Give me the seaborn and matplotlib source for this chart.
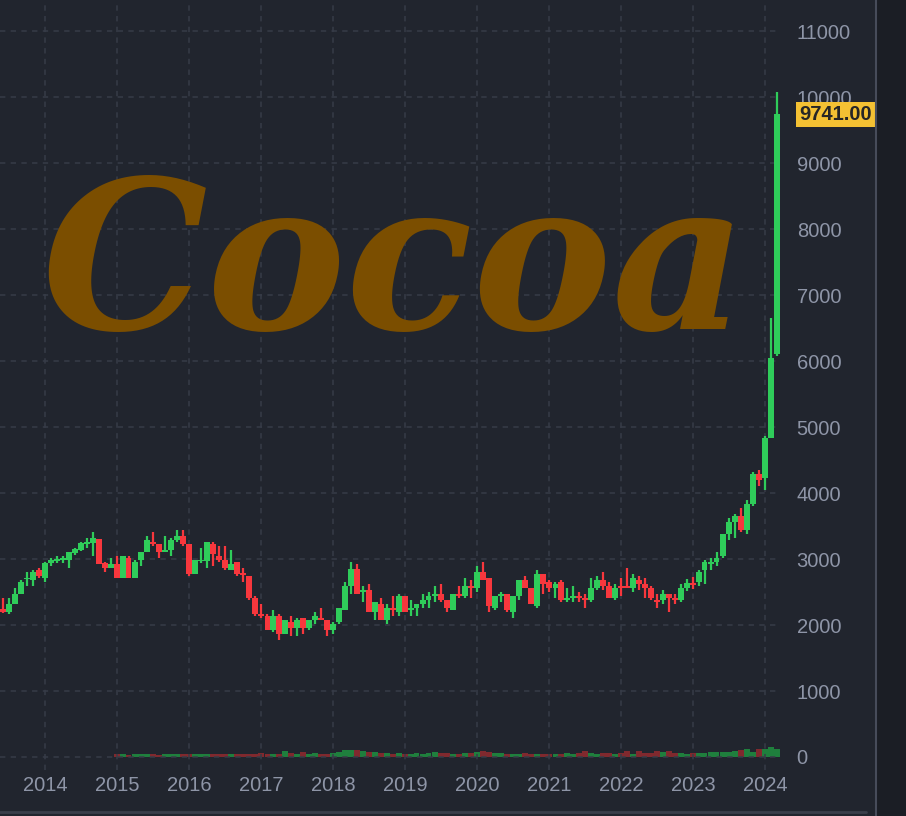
"""
Monthly cocoa futures candles with a volume strip, dark chart style.
"""
import numpy as np
import pandas as pd
import matplotlib
matplotlib.use('Agg')
import matplotlib.pyplot as plt
import matplotlib.dates as mdates
from matplotlib.lines import Line2D
from matplotlib.patches import Rectangle
import seaborn as sns

BG = '#21252e'
GRID = '#373c48'
LABEL = '#8e95a7'
UP = '#2fcc5a'
DOWN = '#f7373d'
UP_VOL = '#1f7f3d'
DOWN_VOL = '#80292e'

first_month = '2013-06-01'

opens = [2238, 2201, 2318, 2469, 2691, 2681, 2833, 2707, 2934, 2974, 2984, 2984, 3085,
         3136, 3227, 3247, 3300, 2934, 2863, 2923, 2712, 3015, 2712, 2984, 3105, 3257,
         3227, 3105, 3136, 3287, 3348, 3227, 2772, 2970, 2974, 3227, 3045, 2984, 2833,
         2954, 2782, 2742, 2409, 2166, 2136, 1924, 2136, 1863, 2045, 1954, 2106, 1954,
         2075, 2106, 2075, 1924, 2045, 2227, 2590, 2850, 2500, 2530, 2197, 2318, 2075,
         2257, 2197, 2439, 2227, 2257, 2318, 2379, 2439, 2469, 2379, 2227, 2469, 2439,
         2591, 2560, 2803, 2712, 2257, 2439, 2469, 2197, 2439, 2681, 2560, 2288, 2772,
         2651, 2560, 2651, 2379, 2409, 2439, 2409, 2379, 2560, 2681, 2591, 2409, 2591,
         2591, 2560, 2681, 2621, 2560, 2379, 2379, 2469, 2409, 2379, 2560, 2640, 2646,
         2828, 2919, 2950, 3040, 3374, 3556, 3646, 3434, 3828, 4283, 4222, 4828, 6111]
highs = [2404, 2404, 2555, 2681, 2808, 2833, 2868, 2959, 3020, 3045, 3045, 3105, 3166,
         3262, 3312, 3409, 3300, 2954, 3015, 3045, 3045, 3045, 2984, 3105, 3348, 3409,
         3227, 3348, 3318, 3439, 3439, 3227, 2984, 3166, 3257, 3257, 3196, 3196, 3136,
         2954, 2859, 2742, 2439, 2318, 2166, 2227, 2166, 2075, 2136, 2106, 2106, 2075,
         2197, 2257, 2075, 2045, 2257, 2651, 2950, 2924, 2591, 2621, 2348, 2409, 2318,
         2439, 2469, 2439, 2379, 2318, 2469, 2500, 2591, 2621, 2379, 2469, 2591, 2712,
         2681, 2894, 2954, 2712, 2439, 2500, 2469, 2439, 2681, 2742, 2560, 2833, 2772,
         2681, 2651, 2681, 2560, 2591, 2500, 2469, 2712, 2742, 2803, 2651, 2621, 2712,
         2863, 2772, 2742, 2712, 2591, 2469, 2530, 2469, 2469, 2621, 2690, 2720, 2828,
         2980, 3010, 3101, 3374, 3616, 3677, 3768, 3889, 4313, 4343, 4858, 6646, 10080]
lows = [2177, 2166, 2318, 2469, 2590, 2590, 2717, 2651, 2894, 2934, 2934, 2868, 3055,
        3126, 3161, 3045, 2923, 2803, 2863, 2712, 2712, 2712, 2712, 2894, 3105, 3196,
        3015, 3105, 3045, 3257, 3196, 2742, 2772, 2934, 2868, 2894, 2954, 2833, 2833,
        2742, 2651, 2379, 2136, 2106, 1924, 1893, 1772, 1863, 1833, 1833, 1863, 1924,
        2015, 2075, 1833, 1863, 2015, 2227, 2470, 2469, 2348, 2197, 2075, 2075, 2015,
        2136, 2136, 2197, 2136, 2136, 2257, 2257, 2348, 2348, 2197, 2227, 2409, 2409,
        2409, 2500, 2681, 2197, 2227, 2348, 2197, 2106, 2379, 2560, 2318, 2257, 2469,
        2500, 2409, 2348, 2348, 2348, 2348, 2257, 2348, 2530, 2530, 2409, 2379, 2439,
        2560, 2500, 2530, 2409, 2379, 2257, 2318, 2197, 2318, 2348, 2510, 2550, 2586,
        2616, 2828, 2889, 3010, 3283, 3313, 3404, 3374, 3798, 4101, 4040, 4828, 6070]
closes = [2201, 2318, 2469, 2651, 2712, 2808, 2742, 2934, 2984, 2994, 3020, 3105, 3146,
          3237, 3257, 3318, 2923, 2863, 2923, 2712, 3045, 2712, 2954, 3105, 3287, 3227,
          3105, 3136, 3287, 3348, 3227, 2772, 2984, 2990, 3257, 3075, 2984, 2863, 2923,
          2772, 2752, 2409, 2166, 2136, 1924, 2136, 1863, 2075, 1954, 2075, 1954, 2075,
          2136, 2075, 1924, 2015, 2257, 2590, 2850, 2469, 2530, 2197, 2348, 2075, 2257,
          2227, 2439, 2197, 2257, 2318, 2379, 2439, 2469, 2379, 2257, 2469, 2439, 2591,
          2560, 2803, 2681, 2288, 2439, 2469, 2227, 2439, 2681, 2560, 2318, 2772, 2621,
          2560, 2621, 2379, 2409, 2439, 2409, 2379, 2560, 2681, 2591, 2409, 2560, 2560,
          2560, 2712, 2621, 2560, 2409, 2348, 2469, 2409, 2379, 2560, 2630, 2610, 2798,
          2950, 2950, 3010, 3374, 3556, 3646, 3434, 3828, 4283, 4192, 4828, 6040, 9741]
volumes = [0] * 19 + [
    90, 100, 80, 110, 100, 90, 100, 80, 110, 100, 90, 100,
    100, 90, 110, 100, 90, 100, 110, 90, 100, 100, 90, 110,
    120, 110, 100, 110, 190, 120, 110, 150, 110, 120, 100, 110,
    130, 180, 220, 240, 230, 200, 170, 150, 130, 120, 110, 120,
    110, 100, 120, 110, 130, 180, 120, 140, 110, 100, 120, 130,
    170, 200, 150, 130, 120, 100, 110, 110, 120, 100, 110, 100,
    100, 110, 100, 120, 110, 130, 190, 120, 110, 130, 120, 110,
    120, 200, 110, 190, 120, 130, 200, 180, 190, 130, 120, 110,
    120, 130, 140, 160, 150, 170, 180, 200, 220, 280, 160, 250,
    260, 330, 250]

price_ticks = list(range(0, 11001, 1000))
year_ticks = list(range(2014, 2025))
last_price = '9741.00'
watermark = 'Cocoa'


if __name__ == '__main__':

    data = pd.DataFrame({'open': opens, 'high': highs, 'low': lows,
                         'close': closes, 'volume': volumes})
    data['date'] = pd.date_range(first_month, periods=len(data), freq='MS')
    data['up'] = data['close'] >= data['open']

    sns.set_style('dark', {'axes.facecolor': BG, 'figure.facecolor': BG})
    plt.rcParams['font.family'] = ['Liberation Sans', 'DejaVu Sans']

    fig = plt.figure(figsize=(9.06, 8.16), dpi=100)
    ax = fig.add_axes([0, 46 / 816, 780 / 906, 770 / 816])
    ax.set_facecolor(BG)

    x = mdates.date2num(data['date'])
    width = 28
    colors = np.where(data['up'], UP, DOWN)
    body_low = np.minimum(data['open'], data['close'])
    body_h = np.maximum(np.abs(data['close'] - data['open']), 15)

    ax.vlines(x, data['low'], data['high'], colors=colors, linewidth=1.6, zorder=3)
    ax.bar(x, body_h, bottom=body_low, width=width, color=colors,
           linewidth=0, zorder=4)

    # volume strip on its own scale, sharing the zero line
    ax.set_ylim(-197, 11470)
    ax2 = ax.twinx()
    vol_colors = np.where(data['up'], UP_VOL, DOWN_VOL)
    ax2.bar(x, data['volume'], width=width, color=vol_colors, linewidth=0, zorder=2)
    lo, hi = ax.get_ylim()
    span = 770 / 3 * 100
    ax2.set_ylim(lo / (hi - lo) * span, hi / (hi - lo) * span)
    ax2.set_axis_off()
    ax.set_zorder(ax2.get_zorder() + 1)
    ax.patch.set_visible(False)
    fig.patch.set_facecolor(BG)

    ax.set_xlim(mdates.datestr2num('2013-05-17'), mdates.datestr2num('2024-03-17'))
    ax.set_xticks([mdates.datestr2num('{}-01-01'.format(y)) for y in year_ticks])
    ax.set_xticklabels([str(y) for y in year_ticks])
    ax.set_yticks(price_ticks)
    ax.set_yticklabels([str(t) for t in price_ticks])
    ax.yaxis.tick_right()

    ax.grid(True, color=GRID, linestyle=(0, (3.5, 3.5)), linewidth=1.1)
    ax.tick_params(axis='y', length=0, pad=12, labelsize=14.5, labelcolor=LABEL)
    ax.tick_params(axis='x', length=0, pad=4, labelsize=14.5, labelcolor=LABEL)
    for spine in ax.spines.values():
        spine.set_visible(False)

    ax.text(0.505, 0.647, watermark, transform=ax.transAxes, ha='center', va='center',
            fontsize=150, fontstyle='italic', fontweight='bold',
            family=['DejaVu Serif'], color='#7b4e00', zorder=1)

    # last price tag
    ax.annotate(last_price, xy=(1, closes[-1]), xycoords=('axes fraction', 'data'),
                xytext=(14, 0), textcoords='offset points', ha='left', va='center',
                fontsize=14.5, fontweight='bold', color='#262626', zorder=10,
                bbox=dict(boxstyle='square,pad=0.15', fc='#f4c133', ec='none'),
                annotation_clip=False)

    # right panel border and bottom rule
    fig.patches.append(Rectangle((877 / 906, 0), 29 / 906, 1, transform=fig.transFigure,
                                 color='#1b1e25', zorder=0))
    fig.lines.append(Line2D([876 / 906, 876 / 906], [0, 1], transform=fig.transFigure,
                            color='#474c5a', linewidth=1.5))
    fig.lines.append(Line2D([0, 866 / 906], [4 / 816, 4 / 816], transform=fig.transFigure,
                            color='#3a3e4a', linewidth=2))

    fig.savefig('out.png', dpi=100, facecolor=BG)
